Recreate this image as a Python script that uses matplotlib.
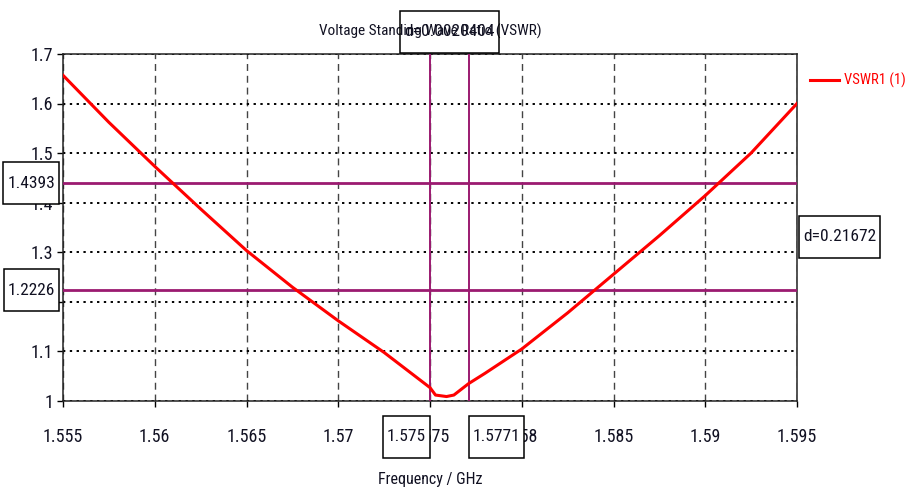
import matplotlib
matplotlib.use("Agg")
import matplotlib.pyplot as plt
from matplotlib.path import Path

plt.rcParams['font.family'] = ['Roboto Condensed', 'DejaVu Sans Condensed', 'Open Sans Condensed',
                               'Liberation Sans Narrow', 'Arial Narrow', 'DejaVu Sans']
plt.rcParams['font.stretch'] = 'condensed'

# ---- data ----
freq_ghz = [1.555, 1.5575, 1.560, 1.5625, 1.565, 1.5675, 1.570, 1.5725, 1.575,
            1.5753, 1.5759, 1.5763, 1.5771, 1.578, 1.580, 1.5825, 1.585, 1.5875,
            1.590, 1.5925, 1.595]
vswr = [1.657, 1.562, 1.473, 1.387, 1.303, 1.229, 1.161, 1.097, 1.026,
        1.011, 1.008, 1.011, 1.034, 1.055, 1.104, 1.177, 1.255, 1.333,
        1.414, 1.500, 1.600]
x_ticks = [1.555, 1.56, 1.565, 1.57, 1.575, 1.58, 1.585, 1.59, 1.595]
x_tick_labels = ['1.555', '1.56', '1.565', '1.57', '1.575', '1.58', '1.585', '1.59', '1.595']
y_ticks = [1.0, 1.1, 1.2, 1.3, 1.4, 1.5, 1.6, 1.7]
y_tick_labels = ['1', '1.1', '1.2', '1.3', '1.4', '1.5', '1.6', '1.7']
marker_x = [1.575, 1.5771]
marker_x_labels = ['1.575', '1.5771']
marker_y = [1.4393, 1.2226]
marker_y_labels = ['1.4393', '1.2226']
dx_label = 'd=0.0020404'
dy_label = 'd=0.21672'
series_name = 'VSWR1 (1)'
title = 'Voltage Standing Wave Ratio (VSWR)'
xlabel = 'Frequency / GHz'

W, H = 912, 493
fig = plt.figure(figsize=(W / 100, H / 100), dpi=100)
ax = fig.add_axes([63 / W, (H - 400.5) / H, 734 / W, 346.5 / H])

MARK = '#9b1a70'
TXT = '#111122'
FS = 13
BFS = 12.5

ax.plot(freq_ghz, vswr, color='red', lw=2.2, zorder=4, label=series_name)
for yv in marker_y:
    ax.axhline(yv, color=MARK, lw=2.0, zorder=3)
for xv in marker_x:
    ax.axvline(xv, color=MARK, lw=1.4, zorder=3)

ax.set_xlim(x_ticks[0], x_ticks[-1])
ax.set_ylim(y_ticks[0], y_ticks[-1])
ax.set_xticks(x_ticks)
ax.set_xticklabels(x_tick_labels)
ax.set_yticks(y_ticks)
ax.set_yticklabels(y_tick_labels)
ax.tick_params(axis='both', direction='out', length=4.5, width=1.0, color='black',
               labelsize=FS, labelcolor=TXT)
ax.tick_params(axis='x', pad=15)
ax.tick_params(axis='y', pad=2.5)
ax.xaxis.grid(True, color='#444444', lw=1.0, linestyle=(0, (5, 3.5)))
ax.yaxis.grid(True, color='black', lw=1.4, linestyle=(0, (1.2, 2.3)))
ax.set_axisbelow(True)
for sp in ax.spines.values():
    sp.set_color('#222222')
    sp.set_linewidth(1.1)

ax.set_title(title, fontsize=11, color=TXT, pad=13)
ax.set_xlabel(xlabel, fontsize=11.5, color=TXT, labelpad=19)

leg = ax.legend(loc='upper left', bbox_to_anchor=(1 + 13 / 734, 0.945), frameon=False,
                labelcolor='red', fontsize=10.5, handlelength=2.0, handletextpad=0.35,
                borderaxespad=0, borderpad=0)


def box_style(x0, y0, width, height, mutation_size):
    padx = 4
    cy = y0 + height / 2
    hh = 21
    verts = [(x0 - padx, cy - hh), (x0 + width + padx, cy - hh),
             (x0 + width + padx, cy + hh), (x0 - padx, cy + hh), (x0 - padx, cy - hh)]
    return Path(verts, closed=True)


def boxed(text, xy, xycoords, offset, ha, fill=True):
    a = ax.annotate(text, xy=xy, xycoords=xycoords, xytext=offset,
                    textcoords='offset pixels', ha=ha, va='center',
                    fontsize=BFS, color=TXT, annotation_clip=False, zorder=10,
                    bbox=dict(boxstyle=box_style, fc='white' if fill else 'none',
                              ec='black', lw=1.1))
    return a


ytr = ax.get_yaxis_transform()
xtr = ax.get_xaxis_transform()
for yv, lab in zip(marker_y, marker_y_labels):
    boxed(lab, (0, yv), ytr, (-8, 0), 'right')
boxed(marker_x_labels[0], (marker_x[0], 0), xtr, (-4, -36), 'right')
boxed(marker_x_labels[1], (marker_x[1], 0), xtr, (4, -36), 'left')
boxed(dy_label, (1, (marker_y[0] + marker_y[1]) / 2), ytr, (6, 0), 'left')
boxed(dx_label, ((marker_x[0] + marker_x[1]) / 2, 1), xtr, (0, 22), 'center', fill=False)

fig.savefig('out.png', dpi=100)
